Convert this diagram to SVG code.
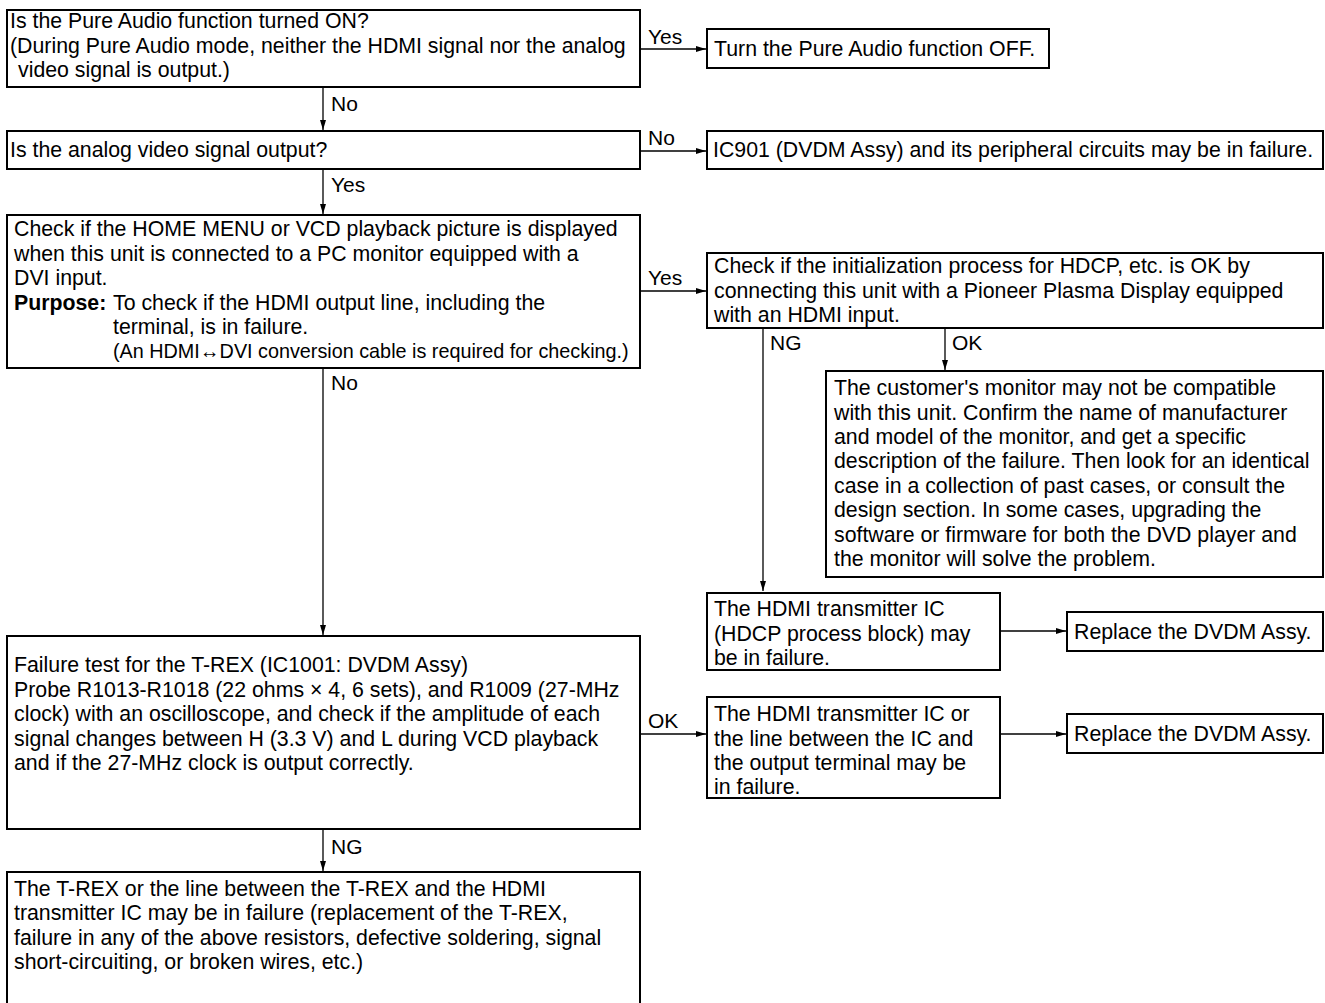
<svg xmlns="http://www.w3.org/2000/svg" width="1325" height="1003" viewBox="0 0 1325 1003">
<defs>
<marker id="ah" viewBox="0 0 10 6" refX="10" refY="3" markerWidth="10" markerHeight="6" markerUnits="userSpaceOnUse" orient="auto">
<path d="M0,0 L10,3 L0,6 z" fill="#000"/>
</marker>
</defs>
<style>
.box{fill:#fff;stroke:#000;stroke-width:2}
.t{font-family:"Liberation Sans",Arial,sans-serif;font-size:21.3px;fill:#000}
.s{font-size:19.8px}
.b{font-weight:bold}
.c{stroke:#000;stroke-width:1.3;fill:none;marker-end:url(#ah)}
.lbl{font-family:"Liberation Sans",Arial,sans-serif;font-size:21px;fill:#000}
</style>
<rect width="1325" height="1003" fill="#fff"/>
<g id="connectors">
<line class="c" x1="640" y1="49" x2="706" y2="49"/>
<line class="c" x1="323" y1="88" x2="323" y2="130"/>
<line class="c" x1="640" y1="151" x2="706" y2="151"/>
<line class="c" x1="323" y1="169" x2="323" y2="214"/>
<line class="c" x1="640" y1="291" x2="706" y2="291"/>
<line class="c" x1="763" y1="328" x2="763" y2="591"/>
<line class="c" x1="945" y1="328" x2="945" y2="370"/>
<line class="c" x1="323" y1="368" x2="323" y2="635"/>
<line class="c" x1="1000" y1="631" x2="1066" y2="631"/>
<line class="c" x1="640" y1="734" x2="706" y2="734"/>
<line class="c" x1="1000" y1="734" x2="1066" y2="734"/>
<line class="c" x1="323" y1="829" x2="323" y2="871"/>
<text class="lbl" x="648" y="44">Yes</text>
<text class="lbl" x="331" y="111">No</text>
<text class="lbl" x="648" y="145">No</text>
<text class="lbl" x="331" y="192">Yes</text>
<text class="lbl" x="648" y="285">Yes</text>
<text class="lbl" x="770" y="350">NG</text>
<text class="lbl" x="952" y="350">OK</text>
<text class="lbl" x="331" y="390">No</text>
<text class="lbl" x="648" y="728">OK</text>
<text class="lbl" x="331" y="854">NG</text>
</g>
<g id="n1">
<rect class="box" x="7" y="10" width="633" height="77"/>
<text class="t" x="10" y="28">Is the Pure Audio function turned ON?</text>
<text class="t" x="10" y="53">(During Pure Audio mode, neither the HDMI signal nor the analog</text>
<text class="t" x="18" y="77">video signal is output.)</text>
</g>
<g id="n2">
<rect class="box" x="707" y="29" width="342" height="39"/>
<text class="t" x="714" y="56">Turn the Pure Audio function OFF.</text>
</g>
<g id="n3">
<rect class="box" x="7" y="131" width="633" height="38"/>
<text class="t" x="10" y="157">Is the analog video signal output?</text>
</g>
<g id="n4">
<rect class="box" x="707" y="131" width="616" height="38"/>
<text class="t" x="713" y="157">IC901 (DVDM Assy) and its peripheral circuits may be in failure.</text>
</g>
<g id="n5">
<rect class="box" x="7" y="215" width="633" height="153"/>
<text class="t" x="14" y="236">Check if the HOME MENU or VCD playback picture is displayed</text>
<text class="t" x="14" y="261">when this unit is connected to a PC monitor equipped with a</text>
<text class="t" x="14" y="285">DVI input.</text>
<text class="t b" x="14" y="310">Purpose:</text>
<text class="t" x="113" y="310">To check if the HDMI output line, including the</text>
<text class="t" x="113" y="334">terminal, is in failure.</text>
<text class="t s" x="113" y="358">(An HDMI↔DVI conversion cable is required for checking.)</text>
</g>
<g id="n6">
<rect class="box" x="707" y="253" width="616" height="75"/>
<text class="t" x="714" y="273">Check if the initialization process for HDCP, etc. is OK by</text>
<text class="t" x="714" y="298">connecting this unit with a Pioneer Plasma Display equipped</text>
<text class="t" x="714" y="322">with an HDMI input.</text>
</g>
<g id="n7">
<rect class="box" x="826" y="371" width="497" height="206"/>
<text class="t" x="834" y="395">The customer's monitor may not be compatible</text>
<text class="t" x="834" y="420">with this unit. Confirm the name of manufacturer</text>
<text class="t" x="834" y="444">and model of the monitor, and get a specific</text>
<text class="t" x="834" y="468">description of the failure. Then look for an identical</text>
<text class="t" x="834" y="493">case in a collection of past cases, or consult the</text>
<text class="t" x="834" y="517">design section. In some cases, upgrading the</text>
<text class="t" x="834" y="542">software or firmware for both the DVD player and</text>
<text class="t" x="834" y="566">the monitor will solve the problem.</text>
</g>
<g id="n8">
<rect class="box" x="707" y="593" width="293" height="77"/>
<text class="t" x="714" y="616">The HDMI transmitter IC</text>
<text class="t" x="714" y="641">(HDCP process block) may</text>
<text class="t" x="714" y="665">be in failure.</text>
</g>
<g id="n9">
<rect class="box" x="1067" y="612" width="256" height="39"/>
<text class="t" x="1074" y="639">Replace the DVDM Assy.</text>
</g>
<g id="n10">
<rect class="box" x="7" y="636" width="633" height="193"/>
<text class="t" x="14" y="672">Failure test for the T-REX (IC1001: DVDM Assy)</text>
<text class="t" x="14" y="697">Probe R1013-R1018 (22 ohms × 4, 6 sets), and R1009 (27-MHz</text>
<text class="t" x="14" y="721">clock) with an oscilloscope, and check if the amplitude of each</text>
<text class="t" x="14" y="746">signal changes between H (3.3 V) and L during VCD playback</text>
<text class="t" x="14" y="770">and if the 27-MHz clock is output correctly.</text>
</g>
<g id="n11">
<rect class="box" x="707" y="697" width="293" height="101"/>
<text class="t" x="714" y="721">The HDMI transmitter IC or</text>
<text class="t" x="714" y="746">the line between the IC and</text>
<text class="t" x="714" y="770">the output terminal may be</text>
<text class="t" x="714" y="794">in failure.</text>
</g>
<g id="n12">
<rect class="box" x="1067" y="714" width="256" height="39"/>
<text class="t" x="1074" y="741">Replace the DVDM Assy.</text>
</g>
<g id="n13">
<rect class="box" x="7" y="872" width="633" height="140"/>
<text class="t" x="14" y="896">The T-REX or the line between the T-REX and the HDMI</text>
<text class="t" x="14" y="920">transmitter IC may be in failure (replacement of the T-REX,</text>
<text class="t" x="14" y="945">failure in any of the above resistors, defective soldering, signal</text>
<text class="t" x="14" y="969">short-circuiting, or broken wires, etc.)</text>
</g>
</svg>
